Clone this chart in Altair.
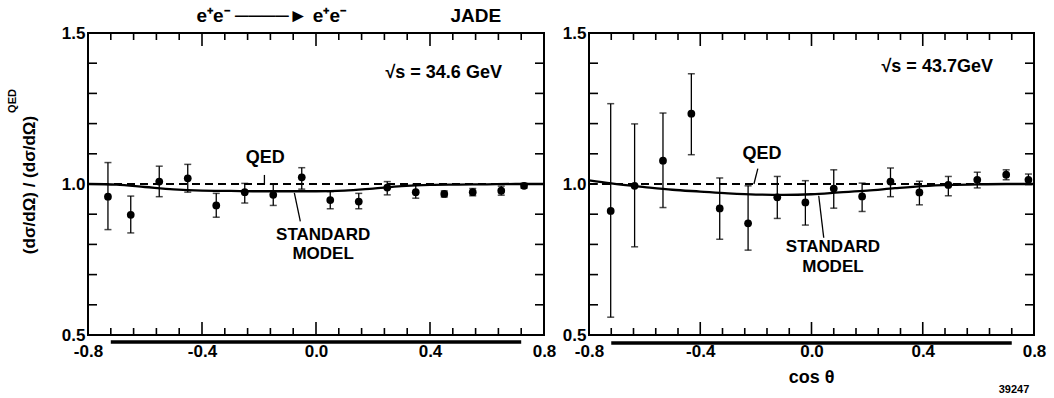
import altair as alt
import pandas as pd

# ---------------- data ----------------
# sqrt(s) = 34.6 GeV
left_cos = [-0.73, -0.65, -0.55, -0.45, -0.35, -0.25, -0.15, -0.05, 0.05, 0.15, 0.25, 0.35, 0.45, 0.55, 0.65, 0.73]
left_val = [0.958, 0.898, 1.008, 1.019, 0.929, 0.973, 0.964, 1.022, 0.947, 0.942, 0.988, 0.973, 0.967, 0.973, 0.978, 0.994]
left_lo = [0.849, 0.838, 0.958, 0.973, 0.890, 0.937, 0.929, 0.983, 0.918, 0.918, 0.964, 0.953, 0.957, 0.961, 0.963, 0.986]
left_hi = [1.071, 0.960, 1.059, 1.065, 0.969, 1.002, 0.999, 1.054, 0.975, 0.969, 1.008, 0.999, 0.977, 0.985, 0.993, 1.002]

# sqrt(s) = 43.7 GeV
right_cos = [-0.722, -0.636, -0.534, -0.432, -0.330, -0.228, -0.123, -0.022, 0.080, 0.182, 0.284, 0.388, 0.492, 0.596, 0.700, 0.780]
right_val = [0.911, 0.994, 1.077, 1.233, 0.919, 0.870, 0.956, 0.939, 0.985, 0.959, 1.008, 0.972, 0.997, 1.014, 1.031, 1.014]
right_lo = [0.559, 0.792, 0.922, 1.097, 0.817, 0.781, 0.886, 0.864, 0.920, 0.909, 0.958, 0.931, 0.961, 0.987, 1.014, 0.998]
right_hi = [1.266, 1.199, 1.235, 1.365, 1.020, 0.994, 1.025, 1.011, 1.047, 1.003, 1.053, 1.009, 1.025, 1.039, 1.047, 1.033]

# Standard Model curves
left_sm_cos = [-0.8, -0.7, -0.6, -0.5, -0.4, -0.3, -0.2, -0.1, 0.0, 0.1, 0.2, 0.3, 0.4, 0.5, 0.6, 0.7, 0.8]
left_sm_val = [1.0, 0.998, 0.990, 0.982, 0.978, 0.977, 0.976, 0.976, 0.976, 0.978, 0.985, 0.993, 0.997, 0.998, 0.999, 1.0, 1.0]
right_sm_cos = [-0.8, -0.72, -0.6, -0.5, -0.4, -0.3, -0.2, -0.1, 0.0, 0.1, 0.2, 0.3, 0.4, 0.5, 0.6, 0.7, 0.8]
right_sm_val = [1.012, 1.002, 0.990, 0.981, 0.975, 0.969, 0.965, 0.964, 0.966, 0.972, 0.978, 0.986, 0.993, 0.997, 0.999, 1.0, 1.0]

# QED reference
qed_cos = [-0.8, 0.8]
qed_val = [1.0, 1.0]

# axes
x_label_values = [-0.8, -0.4, 0.0, 0.4, 0.8]
y_label_values = [0.5, 1.0, 1.5]
x_minor_ticks = [-0.72, -0.64, -0.56, -0.48, -0.32, -0.24, -0.16, -0.08,
                 0.08, 0.16, 0.24, 0.32, 0.48, 0.56, 0.64, 0.72]
x_major_ticks = [-0.4, 0.0, 0.4]
y_ticks = [0.6, 0.7, 0.8, 0.9, 1.0, 1.1, 1.2, 1.3, 1.4]
acceptance = [-0.72, 0.72]

FONT = "Liberation Sans"
W_L, W_R, H = 456, 445, 302
LABEL_EXPR = "datum.value < 0 ? '-' + format(-datum.value, '.1f') : format(datum.value, '.1f')"


def xenc(field="x", axis=None):
    kw = dict(scale=alt.Scale(domain=[-0.8, 0.8], nice=False, zero=False), title=None)
    if axis is not None:
        kw["axis"] = axis
    return alt.X(f"{field}:Q", **kw)


def yenc(field="y", axis=None):
    kw = dict(scale=alt.Scale(domain=[0.5, 1.5], nice=False, zero=False), title=None)
    if axis is not None:
        kw["axis"] = axis
    return alt.Y(f"{field}:Q", **kw)


def panel(cos, val, lo, hi, sm_x, sm_y, width, texts, leaders, acc_off):
    xaxis = alt.Axis(values=x_label_values, labelExpr=LABEL_EXPR, labelFontSize=17, labelFont=FONT,
                     labelFontWeight="bold", labelPadding=8, ticks=False, domain=False, grid=False,
                     labelFlush=False, labelOverlap=False, labelColor="black")
    yaxis = alt.Axis(values=y_label_values, labelExpr=LABEL_EXPR, labelFontSize=17, labelFont=FONT,
                     labelFontWeight="bold", labelPadding=3, ticks=False, domain=False, grid=False,
                     labelFlush=False, labelOverlap=False, labelColor="black")
    X = xenc(axis=xaxis)
    Y = yenc(axis=yaxis)

    pts = pd.DataFrame({"x": cos, "y": val, "lo": lo, "hi": hi})
    bars = alt.Chart(pts).mark_rule(color="black", strokeWidth=1.3).encode(
        x=X, y=yenc("lo", yaxis), y2=alt.Y2("hi:Q"))
    cap_lo = alt.Chart(pts).mark_tick(orient="horizontal", size=7, thickness=1.5, color="black").encode(
        x=X, y=yenc("lo", yaxis))
    cap_hi = alt.Chart(pts).mark_tick(orient="horizontal", size=7, thickness=1.5, color="black").encode(
        x=X, y=yenc("hi", yaxis))
    dots = alt.Chart(pts).mark_circle(size=60, color="black", opacity=1).encode(x=X, y=Y)

    qed = alt.Chart(pd.DataFrame({"x": qed_cos, "y": qed_val})).mark_line(
        color="black", strokeWidth=1.8, strokeDash=[8, 5]).encode(x=X, y=Y)
    sm = alt.Chart(pd.DataFrame({"x": sm_x, "y": sm_y})).mark_line(
        color="black", strokeWidth=2.3, interpolate="monotone").encode(x=X, y=Y)

    # inward ticks on all four sides
    lx = 9 * 1.6 / width
    ly_min = 7 / H
    ly_maj = 13 / H
    tk = []
    for t in x_minor_ticks:
        tk.append({"x": t, "x2": t, "y": 0.5, "y2": 0.5 + ly_min})
        tk.append({"x": t, "x2": t, "y": 1.5, "y2": 1.5 - ly_min})
    for t in x_major_ticks:
        tk.append({"x": t, "x2": t, "y": 0.5, "y2": 0.5 + ly_maj})
        tk.append({"x": t, "x2": t, "y": 1.5, "y2": 1.5 - ly_maj})
    for t in y_ticks:
        tk.append({"x": -0.8, "x2": -0.8 + lx, "y": t, "y2": t})
        tk.append({"x": 0.8, "x2": 0.8 - lx, "y": t, "y2": t})
    ticks = alt.Chart(pd.DataFrame(tk)).mark_rule(color="black", strokeWidth=1.6).encode(
        x=X, x2=alt.X2("x2:Q"), y=Y, y2=alt.Y2("y2:Q"))

    acc = alt.Chart(pd.DataFrame({"x": [acceptance[0]], "x2": [acceptance[1]], "y": [0.5 - acc_off / H]})).mark_rule(
        color="black", strokeWidth=3.5).encode(x=X, x2=alt.X2("x2:Q"), y=Y)

    lead = alt.Chart(pd.DataFrame(leaders, columns=["x", "y", "x2", "y2"])).mark_rule(
        color="black", strokeWidth=1.3).encode(x=X, y=Y, x2=alt.X2("x2:Q"), y2=alt.Y2("y2:Q"))

    layers = [ticks, acc, qed, sm, bars, cap_lo, cap_hi, dots, lead]
    for (t, x, y, fs, fw) in texts:
        layers.append(alt.Chart(pd.DataFrame({"x": [x], "y": [y], "t": [t]})).mark_text(
            font=FONT, fontSize=fs, fontWeight=fw, color="black", align="center", baseline="middle").encode(
            x=X, y=Y, text="t:N"))
    return layers


left_texts = [
    ("QED", -0.178, 1.086, 18, "bold"),
    ("STANDARD", 0.025, 0.832, 17, "bold"),
    ("MODEL", 0.025, 0.767, 17, "bold"),
    ("√s = 34.6 GeV", 0.448, 1.368, 18, "bold"),
    ("e⁺e⁻ ────► e⁺e⁻", -0.157, 1.556, 19, "bold"),
    ("JADE", 0.561, 1.556, 19, "bold"),
]
left_leaders = [(-0.181, 1.03, -0.181, 1.0), (-0.076, 0.971, -0.055, 0.876)]

right_texts = [
    ("QED", -0.178, 1.10, 18, "bold"),
    ("STANDARD", 0.077, 0.790, 17, "bold"),
    ("MODEL", 0.077, 0.725, 17, "bold"),
    ("√s = 43.7GeV", 0.452, 1.386, 18, "bold"),
]
right_leaders = [(-0.193, 1.051, -0.207, 1.0), (0.026, 0.961, 0.044, 0.822)]

left_layers = panel(left_cos, left_val, left_lo, left_hi, left_sm_cos, left_sm_val, W_L,
                    left_texts, left_leaders, 7)
right_layers = panel(right_cos, right_val, right_lo, right_hi, right_sm_cos, right_sm_val, W_R,
                     right_texts, right_leaders, 8)

# y axis title (left panel) and the layout anchor
ytitle = alt.Chart(pd.DataFrame({"t": ["(dσ/dΩ) / (dσ/dΩ)"]})).mark_text(
    font=FONT, fontSize=17, fontWeight="bold", angle=270, color="black", align="center",
    baseline="middle").encode(x=alt.value(-58), y=alt.value(152), text="t:N")
ysup = alt.Chart(pd.DataFrame({"t": ["QED"]})).mark_text(
    font=FONT, fontSize=11, fontWeight="bold", angle=270, color="black", align="center",
    baseline="middle").encode(x=alt.value(-75), y=alt.value(68), text="t:N")
anchor = alt.Chart(pd.DataFrame({"t": [0]})).mark_rule(opacity=0).encode(
    x=alt.value(-86.7), x2=alt.value(-80), y=alt.value(-32))

# right panel x title and figure number
xtitle = alt.Chart(pd.DataFrame({"t": ["cos θ"]})).mark_text(
    font=FONT, fontSize=18, fontWeight="bold", color="black", align="center", baseline="middle").encode(
    x=alt.value(W_R / 2), y=alt.value(H + 43), text="t:N")
fignum = alt.Chart(pd.DataFrame({"t": ["39247"]})).mark_text(
    font=FONT, fontSize=11, fontWeight="bold", color="black", align="center", baseline="middle").encode(
    x=alt.value(425), y=alt.value(H + 55), text="t:N")

left = alt.layer(*left_layers, ytitle, ysup, anchor).properties(width=W_L, height=H)
right = alt.layer(*right_layers, xtitle, fignum).properties(width=W_R, height=H)

chart = alt.hconcat(left, right, spacing=45, bounds="flush").properties(
    padding=0, background="white"
).configure_view(stroke="black", strokeWidth=2)

chart.save("out.html", embed_options={"renderer": "svg", "actions": False})
